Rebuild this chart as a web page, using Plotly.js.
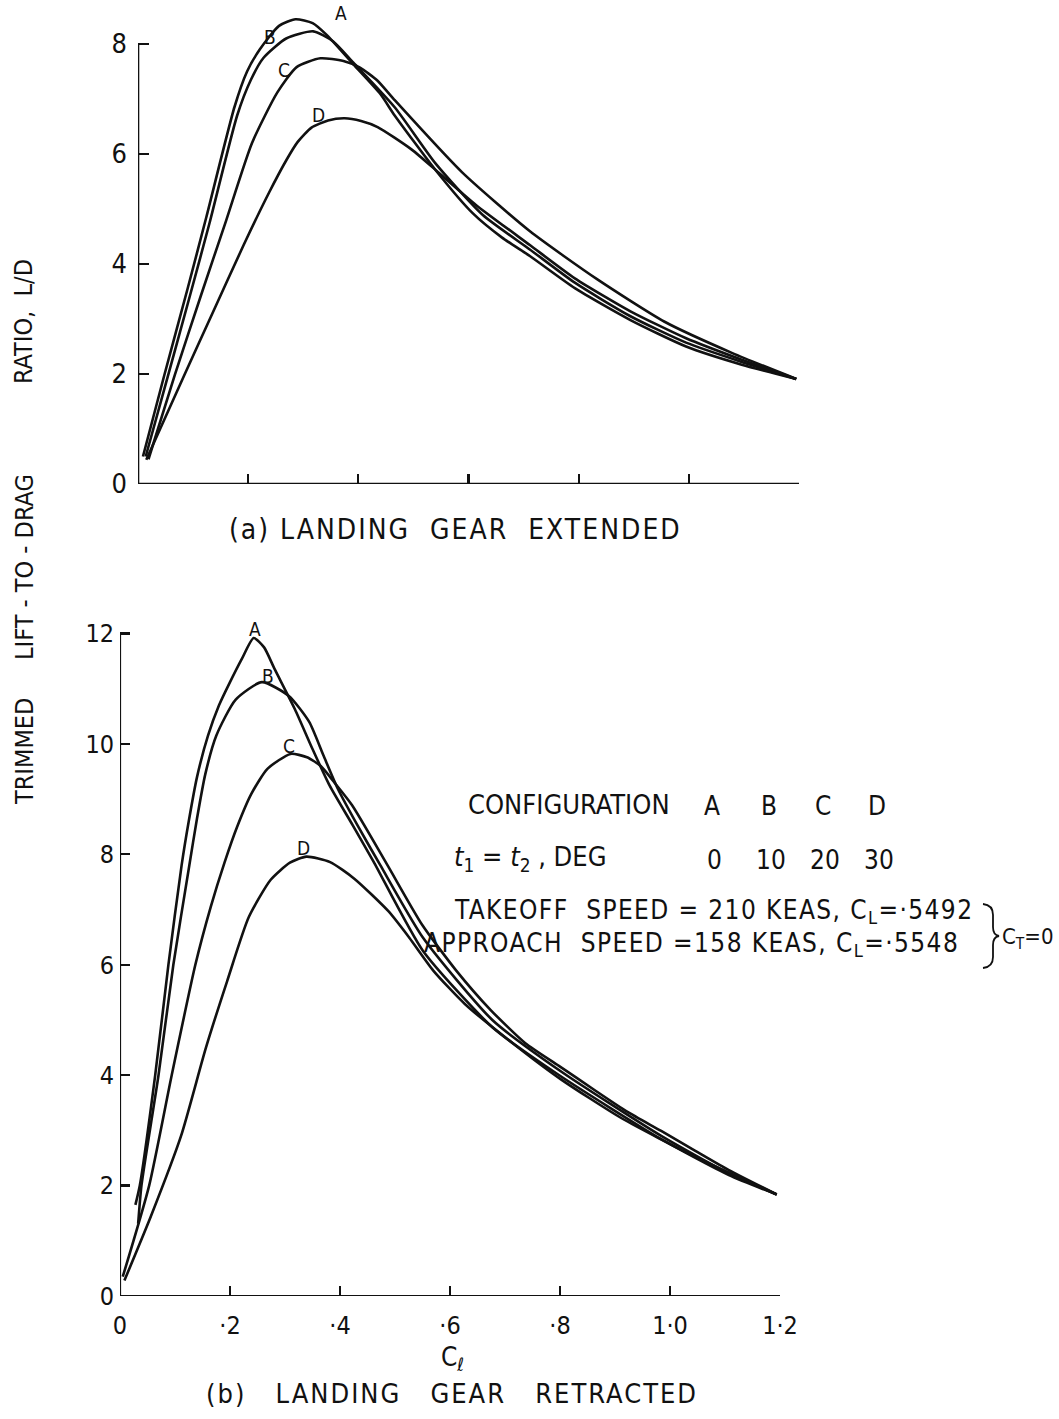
<!DOCTYPE html>
<html>
<head>
<meta charset="utf-8">
<script src="https://cdn.plot.ly/plotly-3.0.1.min.js"></script>
<style>html,body{margin:0;padding:0;background:#fff;}#chart{width:1059px;height:1419px;}</style>
</head>
<body>
<div id="chart"></div>
<script>
// ---------- DATA ----------
// (a) Landing gear extended : lift coefficient vs trimmed L/D
const extA_x = [0.009,0.047,0.090,0.124,0.175,0.198,0.221,0.256,0.286,0.317,0.342,0.391,0.440,0.466,0.540,0.608,0.661,0.712,0.793,0.894,0.995,1.096,1.195];
const extA_y = [0.50,1.95,3.55,4.85,6.85,7.50,7.90,8.33,8.45,8.38,8.17,7.63,7.09,6.70,5.71,4.92,4.48,4.14,3.56,2.98,2.50,2.17,1.91];
const extB_x = [0.014,0.055,0.095,0.130,0.180,0.205,0.228,0.269,0.318,0.354,0.391,0.466,0.540,0.626,0.712,0.793,0.894,0.995,1.096,1.195];
const extB_y = [0.50,1.99,3.45,4.75,6.70,7.35,7.75,8.10,8.23,8.05,7.66,6.85,5.83,4.89,4.26,3.66,3.05,2.57,2.22,1.91];
const extC_x = [0.019,0.067,0.115,0.160,0.207,0.253,0.288,0.331,0.373,0.403,0.434,0.465,0.588,0.711,0.834,0.956,1.079,1.195];
const extC_y = [0.45,1.99,3.45,4.79,6.20,7.12,7.58,7.74,7.69,7.57,7.34,6.99,5.67,4.60,3.72,2.95,2.38,1.91];
const extD_x = [0.015,0.085,0.135,0.192,0.238,0.270,0.290,0.315,0.345,0.375,0.405,0.435,0.497,0.546,0.614,0.712,0.793,0.894,0.995,1.096,1.195];
const extD_y = [0.44,2.00,3.10,4.35,5.30,5.90,6.22,6.48,6.61,6.65,6.60,6.49,6.08,5.66,5.07,4.34,3.74,3.14,2.65,2.26,1.91];

// (b) Landing gear retracted
const retA_x = [0.028,0.036,0.064,0.088,0.112,0.125,0.140,0.160,0.180,0.200,0.222,0.243,0.262,0.281,0.318,0.350,0.381,0.423,0.461,0.551,0.677,0.800,0.984,1.107,1.194];
const retA_y = [1.65,2.00,4.00,6.00,7.80,8.60,9.40,10.15,10.70,11.12,11.55,11.92,11.75,11.36,10.63,9.91,9.25,8.53,7.87,6.25,4.87,3.99,2.84,2.19,1.84];
const retB_x = [0.033,0.039,0.070,0.097,0.126,0.140,0.155,0.175,0.210,0.258,0.307,0.344,0.370,0.396,0.435,0.473,0.551,0.677,0.800,0.984,1.107,1.194];
const retB_y = [1.31,2.00,4.00,6.00,7.80,8.65,9.45,10.15,10.80,11.12,10.87,10.40,9.79,9.19,8.47,7.81,6.49,5.00,4.08,2.90,2.22,1.84];
const retC_x = [0.005,0.053,0.094,0.137,0.165,0.190,0.213,0.239,0.268,0.310,0.340,0.365,0.390,0.422,0.486,0.549,0.611,0.674,0.737,0.798,0.860,0.922,0.984,1.046,1.107,1.194];
const retC_y = [0.35,2.00,4.00,6.00,7.05,7.85,8.50,9.10,9.55,9.82,9.76,9.60,9.30,8.89,7.81,6.73,5.90,5.18,4.58,4.17,3.75,3.34,2.99,2.63,2.28,1.84];
const retD_x = [0.008,0.056,0.111,0.156,0.195,0.234,0.274,0.309,0.339,0.382,0.426,0.488,0.526,0.570,0.627,0.714,0.801,0.912,1.048,1.194];
const retD_y = [0.28,1.44,2.90,4.49,5.71,6.86,7.54,7.85,7.96,7.86,7.56,6.97,6.49,5.89,5.29,4.58,3.93,3.22,2.51,1.84];

// axes ticks
const xTickVals = [0,0.2,0.4,0.6,0.8,1.0,1.2];
const xTickText = ['0','·2','·4','·6','·8','1·0','1·2'];
const yTickValsA = [0,2,4,6,8];
const yTickValsB = [0,2,4,6,8,10,12];

// legend / note text
const configNames = ['A','B','C','D'];
const configAngles = ['0','10','20','30'];

// ---------- FIGURE ----------
const W = 1059, H = 1419;
const px = v => v / W;
const py = v => 1 - v / H;
const INK = '#111';
const FONT = "'DejaVu Sans Condensed','Liberation Sans Narrow','Liberation Sans',Arial,sans-serif";

function curve(x, y, xa, ya) {
  return {x: x, y: y, xaxis: xa, yaxis: ya, type: 'scatter', mode: 'lines',
          line: {color: INK, width: 2.6, shape: 'spline', smoothing: 0.6},
          hoverinfo: 'skip'};
}

const data = [
  curve(extA_x, extA_y, 'x', 'y'),
  curve(extB_x, extB_y, 'x', 'y'),
  curve(extC_x, extC_y, 'x', 'y'),
  curve(extD_x, extD_y, 'x', 'y'),
  curve(retA_x, retA_y, 'x2', 'y2'),
  curve(retB_x, retB_y, 'x2', 'y2'),
  curve(retC_x, retC_y, 'x2', 'y2'),
  curve(retD_x, retD_y, 'x2', 'y2')
];

const axCommon = {showgrid: false, zeroline: false, showline: false, ticks: 'inside',
                  tickwidth: 2.2, tickcolor: INK, fixedrange: true};

function txt(text, x, y, size, opts) {
  return Object.assign({text: text, x: px(x), y: py(y), xref: 'paper', yref: 'paper',
          showarrow: false, font: {family: FONT, size: size, color: INK},
          xanchor: 'center', yanchor: 'middle'}, opts || {});
}
const sp = (s, n) => '<span style="letter-spacing:' + n + 'px">' + s + '</span>';
const NB = '&nbsp;';

const annotations = [
  txt('TRIMMED', 24, 752, 25, {textangle: -90}),
  txt('LIFT' + NB + '-' + NB + 'TO' + NB + '-' + NB + 'DRAG', 24, 567, 25, {textangle: -90}),
  txt('RATIO,' + NB + NB + 'L/D', 24, 322, 25, {textangle: -90}),
  txt(sp('(a) LANDING' + NB + ' GEAR' + NB + ' EXTENDED', 2), 455, 530, 28),
  txt('C<sub>ℓ</sub>', 452, 1358, 26),
  txt(sp('(b)' + NB + NB + ' LANDING' + NB + NB + ' GEAR' + NB + NB + ' RETRACTED', 2), 452, 1393, 27),
  // curve labels (a)
  txt('A', 341, 13, 19), txt('B', 270, 37, 19), txt('C', 284, 70, 19), txt('D', 318, 115, 19),
  // curve labels (b)
  txt('A', 255, 629, 19), txt('B', 268, 676, 19), txt('C', 289, 746, 19), txt('D', 303, 848, 19),
  // note block
  txt('CONFIGURATION', 466, 804, 27, {xanchor: 'left'}),
  txt('<i>t</i><sub>1</sub> = <i>t</i><sub>2</sub> , DEG', 452, 858, 27, {xanchor: 'left'}),
  txt(sp('TAKEOFF' + NB + ' SPEED = 210 KEAS, C<sub>L</sub>=·5492', 1.4), 452, 911, 26, {xanchor: 'left'}),
  txt(sp('APPROACH' + NB + ' SPEED =158 KEAS, C<sub>L</sub>=·5548', 1.4), 422, 944, 26, {xanchor: 'left'}),
  txt('C<sub>T</sub>=0', 1000, 938, 22, {xanchor: 'left'})
];
const cfgX = [712, 769, 823, 877];
configNames.forEach((n, i) => annotations.push(txt(n, cfgX[i], 806, 26)));
configAngles.forEach((n, i) => annotations.push(txt(n, cfgX[i] + 2, 860, 26)));

// brace path in paper units
function P(x, y) { return px(x) + ',' + py(y); }
const bracePath = 'M' + P(983, 904) + ' Q' + P(993, 905) + ' ' + P(993, 915) +
  ' L' + P(993, 927) + ' Q' + P(993, 935) + ' ' + P(999, 936) +
  ' Q' + P(993, 937) + ' ' + P(993, 945) + ' L' + P(993, 957) +
  ' Q' + P(993, 967) + ' ' + P(983, 968);

const shapes = [
  {type: 'line', xref: 'x', yref: 'y', x0: 0, y0: 0, x1: 0, y1: 8, line: {color: INK, width: 2.6}},
  {type: 'line', xref: 'x', yref: 'y', x0: 0, y0: 0, x1: 1.2, y1: 0, line: {color: INK, width: 2.6}},
  {type: 'line', xref: 'x2', yref: 'y2', x0: 0, y0: 0, x1: 0, y1: 12, line: {color: INK, width: 2.2}},
  {type: 'line', xref: 'x2', yref: 'y2', x0: 0, y0: 0, x1: 1.2, y1: 0, line: {color: INK, width: 2.2}},
  {type: 'path', xref: 'paper', yref: 'paper', path: bracePath, line: {color: INK, width: 1.8}}
];

const layout = {
  width: W, height: H,
  margin: {l: 0, r: 0, t: 0, b: 0},
  paper_bgcolor: '#fff', plot_bgcolor: 'rgba(0,0,0,0)',
  showlegend: false,
  font: {family: FONT, color: INK},
  xaxis: Object.assign({}, axCommon, {domain: [px(138), px(799)], range: [0, 1.2], anchor: 'y',
          tickvals: xTickVals, showticklabels: false, ticklen: 10}),
  yaxis: Object.assign({}, axCommon, {domain: [py(484), py(5.5)], range: [0, 8.7], anchor: 'x',
          tickvals: yTickValsA, ticklen: 11, tickfont: {family: FONT, size: 27, color: INK},
          ticklabelstandoff: 10}),
  xaxis2: Object.assign({}, axCommon, {domain: [px(120), px(780)], range: [0, 1.2], anchor: 'y2',
          tickvals: xTickVals, ticktext: xTickText, ticklen: 10,
          tickfont: {family: FONT, size: 25, color: INK}, ticklabelstandoff: 12}),
  yaxis2: Object.assign({}, axCommon, {domain: [py(1296), py(611.5)], range: [0, 12.4], anchor: 'x2',
          tickvals: yTickValsB, ticklen: 10, tickfont: {family: FONT, size: 25, color: INK},
          ticklabelstandoff: 5}),
  annotations: annotations,
  shapes: shapes
};

Plotly.newPlot('chart', data, layout, {staticPlot: true, displayModeBar: false});
</script>
</body>
</html>
